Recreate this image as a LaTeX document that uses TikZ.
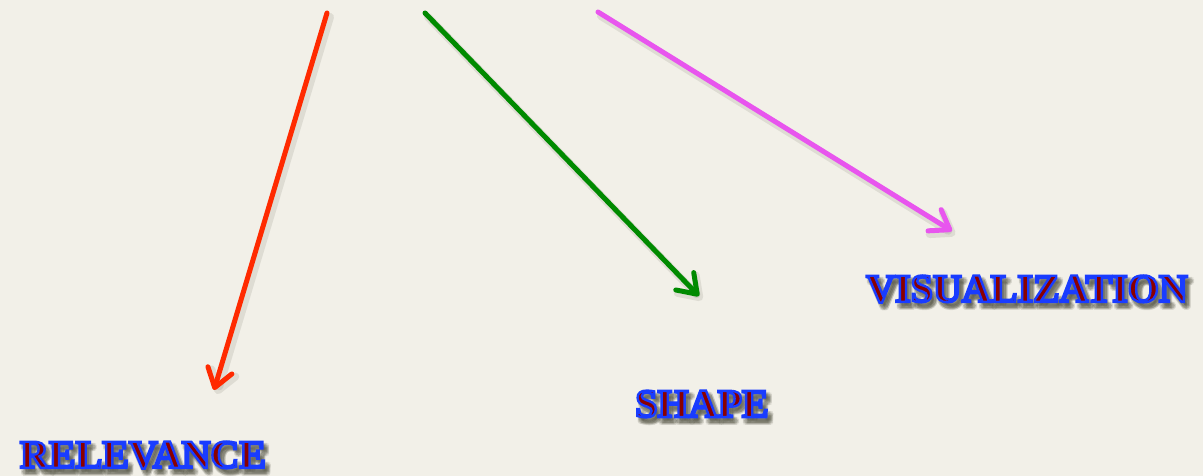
\documentclass[tikz,border=0pt]{standalone}
\usepackage{fontspec}
\setmainfont{Liberation Serif}
\usetikzlibrary{arrows.meta,calc}
\definecolor{bgc}{HTML}{F2F0E8}
\definecolor{redc}{HTML}{FF2A00}
\definecolor{greenc}{HTML}{008A00}
\definecolor{magc}{HTML}{E855EE}
\definecolor{shadowc}{HTML}{505040}
\font\outf="Liberation Serif/B:embolden=6" at 40bp
\newcommand\twotone[1]{\special{pdf:bcolor [0.54 0 0] [0.1 0.235 1]}#1\special{pdf:ecolor}}
\tikzset{
  lbl/.style={inner sep=0pt, font=\outf},
  arr/.style={line width=5bp, line cap=round, line join=round,
    -{Straight Barb[length=18bp,width=25bp,line cap=round,line join=round]}},
  arrshadow/.style={arr, draw=shadowc, draw opacity=0.12, line width=8bp},
}
\newcommand\fancylabel[3]{%
  \foreach \a [count=\i] in {0,45,...,315}
    \node[lbl, text=shadowc, text opacity=0.13] (#1-s\i) at ($(#2)+(3.5,4.5)+(\a:2.2)$) {#3};
  \node[lbl] (#1) at (#2) {\twotone{#3}};
}
\begin{document}
\begin{tikzpicture}[x=1bp,y=-1bp]
\fill[bgc] (0,0) rectangle (1203,476);
\useasboundingbox (0,0) rectangle (1203,476);
\coordinate (rs) at (327,13);
\coordinate (re) at (214,390);
\coordinate (gs) at (425,13);
\coordinate (ge) at (699,296);
\coordinate (ms) at (598,12);
\coordinate (me) at (952,231);
\coordinate (rp) at (143,455);
\coordinate (sp) at (702,404);
\coordinate (vp) at (1027,289);
% arrow shadows
\draw[arrshadow] ($(rs)+(3,4)$) -- ($(re)+(3,4)$);
\draw[arrshadow] ($(gs)+(3,4)$) -- ($(ge)+(3,4)$);
\draw[arrshadow] ($(ms)+(3,4)$) -- ($(me)+(3,4)$);
% arrows
\draw[arr, draw=redc] (rs) -- (re);
\draw[arr, draw=greenc] (gs) -- (ge);
\draw[arr, draw=magc] (ms) -- (me);
% labels
\fancylabel{rel}{rp}{RELEVANCE}
\fancylabel{shp}{sp}{SHAPE}
\fancylabel{vis}{vp}{VISUALIZATION}
\end{tikzpicture}
\end{document}
